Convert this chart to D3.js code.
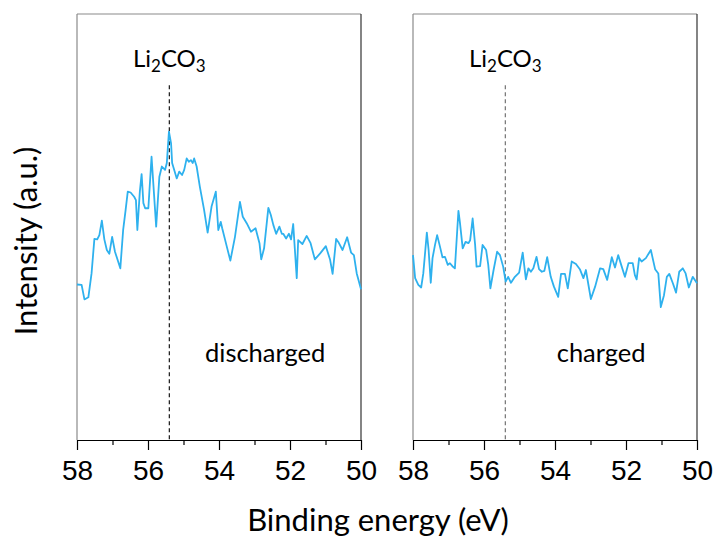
<!DOCTYPE html>
<html lang="en">
  <head>
    <meta charset="UTF-8">
    <title>XPS Li 1s</title>
    <style>
      body { margin: 0; background: #fff; }
      svg text { font-family: Lato, "Open Sans", sans-serif; fill: #000; }
      .tick text { font-family: "Liberation Sans", Arial, sans-serif; }
    </style>
  </head>
  <body>
    <div id="chart"></div>
    <script src="https://d3js.org/d3.v7.min.js"></script>
    <script>
      // binding energy (eV) and intensity (a.u.)
      let dischargedEnergy = [58.00, 57.87, 57.79, 57.68, 57.59, 57.51, 57.43, 57.37, 57.30, 57.23,
        57.16, 57.09, 57.01, 56.93, 56.78, 56.70, 56.63, 56.57, 56.49, 56.39,
        56.34, 56.30, 56.23, 56.18, 56.13, 56.08, 55.99, 55.90, 55.77, 55.68,
        55.61, 55.52, 55.47, 55.41, 55.35, 55.32, 55.19, 55.12, 55.04, 54.98,
        54.91, 54.85, 54.79, 54.74, 54.70, 54.63, 54.54, 54.42, 54.32, 54.21,
        54.09, 54.02, 53.95, 53.91, 53.78, 53.68, 53.55, 53.41, 53.33, 53.22,
        53.10, 52.97, 52.86, 52.81, 52.73, 52.61, 52.54, 52.47, 52.39, 52.30,
        52.23, 52.19, 52.11, 52.03, 51.97, 51.91, 51.81, 51.77, 51.65, 51.53,
        51.42, 51.30, 51.15, 50.99, 50.87, 50.80, 50.70, 50.64, 50.52, 50.39,
        50.28, 50.20, 50.12, 50.00];
      let dischargedIntensity = [36.5, 36.4, 33.0, 33.5, 39.1, 47.2, 47.1, 48.1, 51.5, 47.1,
        44.6, 43.7, 47.7, 44.2, 40.3, 49.3, 54.0, 58.3, 58.1, 57.1,
        56.3, 49.3, 58.3, 62.4, 55.6, 54.4, 54.4, 66.5, 50.1, 61.8,
        64.2, 63.4, 65.0, 72.4, 69.6, 65.0, 61.4, 63.0, 62.2, 63.4,
        66.1, 65.3, 65.7, 65.0, 66.1, 64.2, 59.5, 54.0, 48.7, 54.8,
        58.3, 49.3, 51.2, 49.7, 45.4, 42.1, 47.7, 55.9, 52.4, 50.9,
        48.9, 49.7, 46.2, 42.4, 45.0, 54.5, 52.8, 50.5, 48.4, 50.1,
        48.4, 48.4, 47.3, 48.4, 47.1, 50.7, 38.0, 46.9, 46.0, 47.9,
        46.2, 42.4, 43.8, 45.5, 42.3, 39.0, 47.2, 46.5, 44.6, 47.6,
        44.0, 43.4, 39.1, 35.4];

      let chargedEnergy = [58.00, 57.94, 57.85, 57.77, 57.71, 57.61, 57.56, 57.50, 57.45, 57.38,
        57.32, 57.24, 57.17, 57.10, 57.02, 56.96, 56.89, 56.82, 56.72, 56.68,
        56.60, 56.52, 56.44, 56.39, 56.32, 56.25, 56.21, 56.11, 56.04, 55.94,
        55.88, 55.82, 55.73, 55.63, 55.55, 55.46, 55.39, 55.32, 55.24, 55.13,
        55.01, 54.91, 54.82, 54.75, 54.68, 54.61, 54.52, 54.45, 54.37, 54.30,
        54.22, 54.12, 54.03, 53.91, 53.83, 53.72, 53.64, 53.53, 53.41, 53.30,
        53.20, 53.13, 52.99, 52.87, 52.73, 52.64, 52.53, 52.40, 52.31, 52.22,
        52.12, 52.03, 51.93, 51.81, 51.75, 51.70, 51.63, 51.56, 51.44, 51.30,
        51.18, 51.09, 51.02, 50.93, 50.85, 50.78, 50.68, 50.59, 50.50, 50.40,
        50.32, 50.23, 50.12, 50.00];
      let chargedIntensity = [43.4, 38.0, 36.4, 35.8, 39.1, 48.7, 44.6, 36.9, 42.7, 45.8,
        48.1, 45.4, 42.9, 43.0, 41.1, 41.5, 40.8, 40.3, 53.8, 51.2,
        45.0, 46.5, 46.2, 46.9, 52.0, 45.8, 40.7, 40.8, 45.8, 44.6,
        41.1, 35.6, 39.9, 44.2, 43.4, 40.7, 37.2, 38.3, 36.9, 38.3,
        39.3, 44.0, 37.7, 40.3, 39.5, 40.3, 43.0, 40.1, 39.5, 39.7,
        42.9, 38.3, 36.0, 33.6, 39.0, 39.0, 35.6, 41.9, 41.3, 40.1,
        38.0, 39.9, 33.1, 36.0, 40.3, 40.1, 37.6, 42.9, 40.5, 43.4,
        40.7, 38.3, 41.5, 41.5, 38.7, 37.7, 42.7, 41.9, 42.7, 44.6,
        40.1, 39.1, 31.2, 34.0, 38.3, 39.0, 36.8, 34.6, 39.5, 40.3,
        39.1, 35.8, 38.3, 36.8];

      let panelNames = ["discharged", "charged"];
      let xTicks = [58, 56, 54, 52, 50];
      let li2co3Energy = 55.4;

      let width = 714;
      let height = 538;
      let panelLeft = [77, 413];
      let panelWidth = 284;
      let plotTop = 14;
      let plotBottom = 440;

      let svg = d3.select("#chart").append("svg")
        .attr("width", width).attr("height", height);

      let y = d3.scaleLinear().domain([0, 100]).range([plotBottom, plotTop]);

      let series = [
        { name: panelNames[0], energy: dischargedEnergy, intensity: dischargedIntensity, refColor: "#000" },
        { name: panelNames[1], energy: chargedEnergy, intensity: chargedIntensity, refColor: "#666" }
      ];

      series.forEach(function(s, i) {
        let x = d3.scaleLinear().domain([58, 50]).range([panelLeft[i], panelLeft[i] + panelWidth]);
        let g = svg.append("g");

        // frame: left and top grey, right dark
        g.append("line").attr("x1", x(58)).attr("x2", x(58)).attr("y1", plotTop).attr("y2", plotBottom)
          .attr("stroke", "#8a8a8a").attr("stroke-width", 1.2);
        g.append("line").attr("x1", x(58)).attr("x2", x(50)).attr("y1", plotTop).attr("y2", plotTop)
          .attr("stroke", "#8a8a8a").attr("stroke-width", 1.2);
        g.append("line").attr("x1", x(50)).attr("x2", x(50)).attr("y1", plotTop).attr("y2", plotBottom)
          .attr("stroke", "#333").attr("stroke-width", 1.2);

        // minor ticks
        g.append("g").attr("transform", "translate(0," + plotBottom + ")")
          .call(d3.axisBottom(x).tickValues(d3.range(57, 50, -2)).tickSize(5).tickFormat(""))
          .call(function(a) { a.select(".domain").remove(); });

        // major ticks + labels
        let axis = g.append("g").attr("transform", "translate(0," + plotBottom + ")")
          .call(d3.axisBottom(x).tickValues(xTicks).tickSize(10).tickSizeOuter(0).tickPadding(10)
            .tickFormat(d3.format("d")));
        axis.select(".domain").attr("stroke", "#000").attr("stroke-width", 1.2);
        axis.selectAll(".tick text").style("font-size", "28px").attr("fill", "#000");
        g.selectAll(".tick line").attr("stroke", "#000").attr("stroke-width", 1.2);

        // Li2CO3 reference line
        g.append("line")
          .attr("x1", x(li2co3Energy)).attr("x2", x(li2co3Energy))
          .attr("y1", y(83.3)).attr("y2", plotBottom)
          .attr("stroke", s.refColor).attr("stroke-width", 1.1)
          .attr("stroke-dasharray", "4,3");

        let lbl = g.append("text")
          .attr("x", x(li2co3Energy)).attr("y", y(87.6))
          .attr("text-anchor", "middle")
          .style("font-size", "24px");
        lbl.append("tspan").text("Li");
        lbl.append("tspan").attr("dy", 5).style("font-size", "17px").text("2");
        lbl.append("tspan").attr("dy", -5).text("CO");
        lbl.append("tspan").attr("dy", 5).style("font-size", "17px").text("3");

        // spectrum
        let pts = s.energy.map(function(e, k) { return [e, s.intensity[k]]; });
        let line = d3.line().x(function(d) { return x(d[0]); }).y(function(d) { return y(d[1]); });
        g.append("path").datum(pts)
          .attr("d", line)
          .attr("fill", "none")
          .attr("stroke", "#2eb1ee")
          .attr("stroke-width", 1.8)
          .attr("stroke-linejoin", "round");

        g.append("text")
          .attr("x", x(52.7)).attr("y", y(18.3))
          .attr("text-anchor", "middle")
          .style("font-size", "25.5px")
          .text(s.name);
      });

      svg.append("text")
        .attr("x", 378).attr("y", 531)
        .attr("text-anchor", "middle")
        .style("font-size", "31px")
        .text("Binding energy (eV)");

      svg.append("text")
        .attr("transform", "translate(37,241) rotate(-90)")
        .attr("text-anchor", "middle")
        .style("font-size", "31px")
        .text("Intensity (a.u.)");
    </script>
  </body>
</html>
